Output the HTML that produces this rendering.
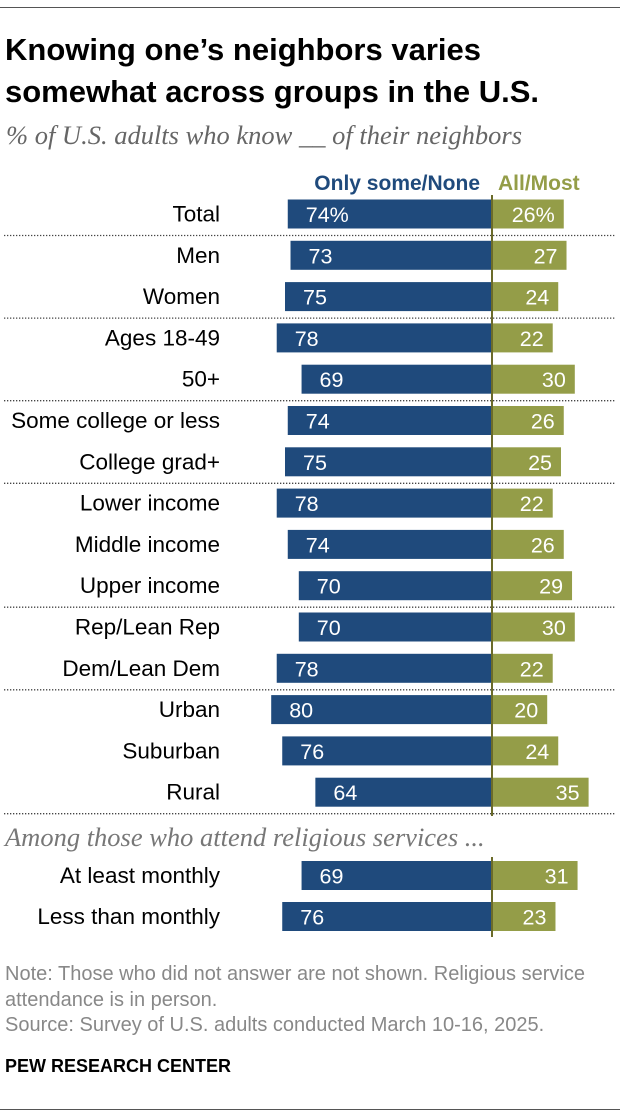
<!DOCTYPE html>
<html><head><meta charset="utf-8"><style>
body{margin:0;background:#fff;width:620px;height:1116px;position:relative;overflow:hidden;font-family:"Liberation Sans",sans-serif;}
.t{position:absolute;white-space:nowrap;}
</style></head><body>
<div style="position:absolute;left:0;top:7px;width:620px;height:1px;background:#555"></div>
<div class="t" style="left:5px;top:29px;font-size:31px;font-weight:bold;line-height:42px;color:#000;letter-spacing:0px">Knowing one’s neighbors varies<br>somewhat across groups in the U.S.</div>
<div class="t" style="left:6px;top:120px;font-family:'Liberation Serif',serif;font-style:italic;font-size:26.5px;color:#666">% of U.S. adults who know __ of their neighbors</div>
<svg id="chart" width="620" height="1116" style="position:absolute;left:0;top:0"></svg>
<div class="t" style="left:5px;top:962px;font-size:20px;line-height:25.5px;color:#888">Note: Those who did not answer are not shown. Religious service<br>attendance is in person.<br>Source: Survey of U.S. adults conducted March 10-16, 2025.</div>
<div class="t" style="left:5px;top:1056px;font-size:18px;font-weight:bold;color:#000">PEW RESEARCH CENTER</div>
<div style="position:absolute;left:0;top:1109px;width:620px;height:1px;background:#555"></div>
<script>
const categories=["Total","Men","Women","Ages 18-49","50+","Some college or less","College grad+","Lower income","Middle income","Upper income","Rep/Lean Rep","Dem/Lean Dem","Urban","Suburban","Rural","At least monthly","Less than monthly"];
const someNone=[74,73,75,78,69,74,75,78,74,70,70,78,80,76,64,69,76];
const allMost=[26,27,24,22,30,26,25,22,26,29,30,22,20,24,35,31,23];
const dividerAfter=[0,2,4,6,9,11,14];
const svg=document.getElementById('chart');
const NS='http://www.w3.org/2000/svg';
const cx=492,k=2.76,bh=29;
function xL(v){return cx-v*k;}
function xR(v){return cx+v*k;}
function yc(i){return i<15?214+i*41.3:875.5+(i-15)*41;}
function mk(tag,a,txt){const e=document.createElementNS(NS,tag);for(const n in a)e.setAttribute(n,a[n]);if(txt!=null)e.textContent=txt;svg.appendChild(e);return e;}
let e=mk('text',{x:480,y:190,'text-anchor':'end','font-size':21,'font-weight':'bold',fill:'#1f4a7c'},'Only some/None');


e=mk('text',{x:498,y:190,'font-size':21,'font-weight':'bold',fill:'#949d48'},'All/Most');


dividerAfter.forEach(i=>{
  const y=yc(i)+21.5;
  const l=mk('line',{x1:4,x2:616,y1:y,y2:y,stroke:'#444','stroke-width':1.3,'stroke-dasharray':'1.3 1.7'});
  
  
});
e=mk('text',{x:5,y:846,'font-family':'Liberation Serif,serif','font-style':'italic','font-size':26.5,fill:'#777'},'Among those who attend religious services ...');


categories.forEach((c,i)=>{
  const y=yc(i);
  const suf=i===0?'%':'';
  let t=mk('text',{x:220,y:y+7.5,'text-anchor':'end','font-size':22.5,fill:'#000'},c);
  
  
  let r=mk('rect',{x:xL(someNone[i]),y:y-bh/2,width:cx-xL(someNone[i]),height:bh,fill:'#1f4a7c'});
  
  
  r=mk('rect',{x:cx,y:y-bh/2,width:xR(allMost[i])-cx,height:bh,fill:'#949d48'});
  
  
  t=mk('text',{x:xL(someNone[i])+18,y:y+8,'font-size':21.5,fill:'#fff'},someNone[i]+suf);
  
  
  t=mk('text',{x:xR(allMost[i])-9,y:y+8,'text-anchor':'end','font-size':21.5,fill:'#fff'},allMost[i]+suf);
  
  
});
e=mk('line',{x1:cx,x2:cx,y1:195,y2:816,stroke:'#6b6b2a','stroke-width':2});


e=mk('line',{x1:cx,x2:cx,y1:857,y2:937,stroke:'#6b6b2a','stroke-width':2});


</script>
</body></html>
